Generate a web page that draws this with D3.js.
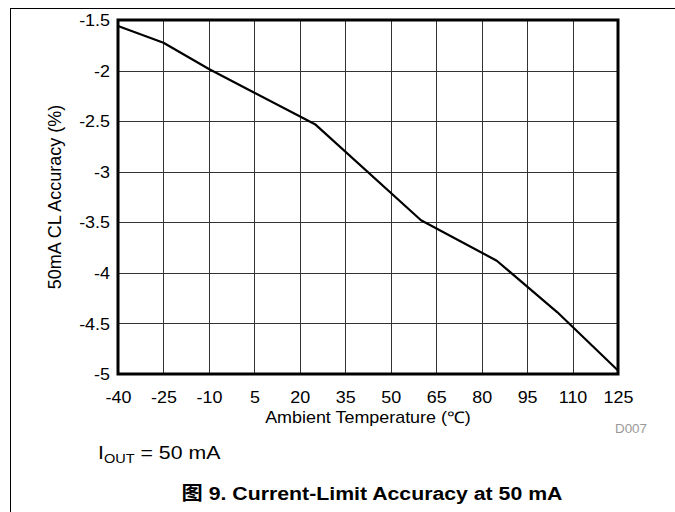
<!DOCTYPE html>
<html>
<head>
<meta charset="utf-8">
<script src="https://cdn.jsdelivr.net/npm/d3@7"></script>
<style>
  html, body { margin: 0; padding: 0; background: #fff; }
  svg { display: block; font-family: "Liberation Sans", Arial, sans-serif; }
</style>
</head>
<body>
<svg id="chart" width="675" height="512"></svg>
<script>
// ---- data ----
const temperatures = [-40, -25, -10, 5, 25, 60, 85, 105, 125];
const accuracy = [-1.56, -1.725, -1.985, -2.22, -2.53, -3.48, -3.88, -4.39, -4.965];
const xTickValues = [-40, -25, -10, 5, 20, 35, 50, 65, 80, 95, 110, 125];
const yTickValues = [-1.5, -2, -2.5, -3, -3.5, -4, -4.5, -5];
const xTitle = "Ambient Temperature (\u2103)";
const yTitle = "50mA CL Accuracy (%)";
const caption = "\u56fe 9. Current-Limit Accuracy at 50 mA";
const figId = "D007";

// ---- layout ----
const svg = d3.select("#chart");
const L = 118, R = 618, T = 20, B = 374;
const sx = 1.12; // horizontal text stretch

const x = d3.scaleLinear().domain([-40, 125]).range([L, R]);
const y = d3.scaleLinear().domain([-5, -1.5]).range([B, T]);

// outer frame (left and top only)
svg.append("line").attr("x1", 10.5).attr("x2", 10.5).attr("y1", 8).attr("y2", 512)
  .attr("stroke", "#000").attr("stroke-width", 1);
svg.append("line").attr("x1", 10).attr("x2", 675).attr("y1", 8.5).attr("y2", 8.5)
  .attr("stroke", "#000").attr("stroke-width", 1);

// grid
const grid = svg.append("g");
grid.selectAll(".vg").data(xTickValues).join("line")
  .attr("x1", d => Math.round(x(d)) + 0.5).attr("x2", d => Math.round(x(d)) + 0.5)
  .attr("y1", T).attr("y2", B).attr("stroke", "#333").attr("stroke-width", 1);
grid.selectAll(".hg").data(yTickValues).join("line")
  .attr("y1", d => Math.round(y(d)) + 0.5).attr("y2", d => Math.round(y(d)) + 0.5)
  .attr("x1", L).attr("x2", R).attr("stroke", "#333").attr("stroke-width", 1);

// axes (labels only, ticks hidden)
const fmt = d => String(d);
const xAxis = svg.append("g").attr("transform", `translate(0,${B})`)
  .call(d3.axisBottom(x).tickValues(xTickValues).tickSize(0).tickPadding(0).tickFormat(fmt));
xAxis.select(".domain").remove();
xAxis.selectAll("text").attr("y", 0).attr("dy", 0)
  .attr("transform", `translate(0,29) scale(${sx},1)`)
  .attr("font-size", 16).attr("fill", "#000")
  .attr("font-family", "'Liberation Sans', Arial, sans-serif");

const yAxis = svg.append("g").attr("transform", `translate(${L},0)`)
  .call(d3.axisLeft(y).tickValues(yTickValues).tickSize(0).tickPadding(0).tickFormat(fmt));
yAxis.select(".domain").remove();
yAxis.selectAll("text").attr("x", 0).attr("dy", "0.35em")
  .attr("transform", `translate(-8,0) scale(${sx},1)`)
  .attr("font-size", 16).attr("fill", "#000").attr("text-anchor", "end")
  .attr("font-family", "'Liberation Sans', Arial, sans-serif");

// data line
const line = d3.line().x((d, i) => x(temperatures[i])).y(d => y(d));
svg.append("path").datum(accuracy).attr("d", line)
  .attr("fill", "none").attr("stroke", "#000").attr("stroke-width", 2.2)
  .attr("stroke-linejoin", "round");

// plot border
svg.append("rect").attr("x", L).attr("y", T).attr("width", R - L).attr("height", B - T)
  .attr("fill", "none").attr("stroke", "#000").attr("stroke-width", 3);

// titles
svg.append("text").attr("transform", `translate(${(L + R) / 2},423) scale(${sx},1)`)
  .attr("text-anchor", "middle").attr("font-size", 16).text(xTitle);
svg.append("text").attr("transform", `translate(61,${(T + B) / 2}) rotate(-90)`)
  .attr("text-anchor", "middle").attr("font-size", 18).text(yTitle);

svg.append("text").attr("transform", `translate(631,433) scale(${sx},1)`)
  .attr("text-anchor", "middle").attr("font-size", 12).attr("fill", "#999").text(figId);

// IOUT annotation
const iout = svg.append("text").attr("transform", `translate(98,459) scale(${sx},1)`)
  .attr("font-size", 19).attr("fill", "#000");
iout.append("tspan").text("I");
iout.append("tspan").attr("font-size", 13).attr("dy", 4).text("OUT");
iout.append("tspan").attr("dy", -4).text(" = 50 mA");

// caption
svg.append("text").attr("transform", `translate(372,500) scale(${sx},1)`)
  .attr("text-anchor", "middle").attr("font-size", 19).attr("font-weight", "bold")
  .attr("font-family", "'Liberation Sans', 'Noto Sans CJK SC', Arial, sans-serif")
  .text(caption);
</script>
</body>
</html>
